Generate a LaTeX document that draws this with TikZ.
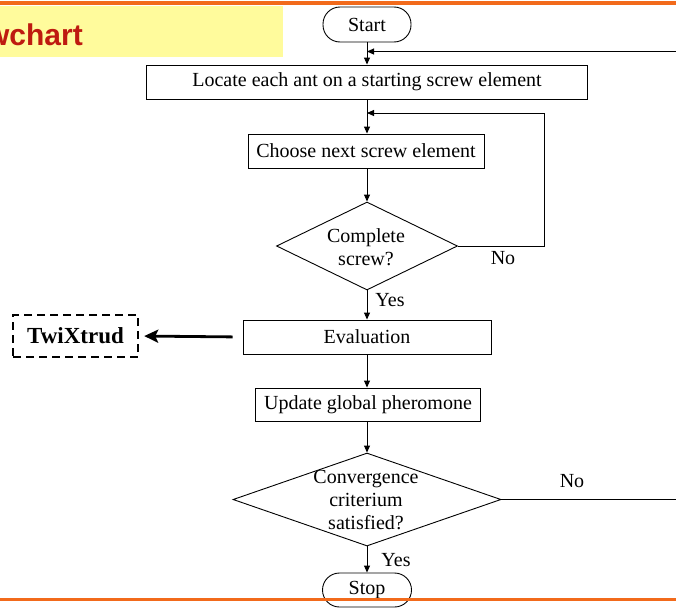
\documentclass[tikz,border=0pt]{standalone}
\usepackage{fontspec}
\setmainfont{Liberation Serif}
\newfontfamily\headfont{Liberation Sans}
\usetikzlibrary{arrows.meta,shapes.geometric}
\definecolor{bandorange}{HTML}{F26A1B}
\definecolor{titleyellow}{HTML}{FFFB9C}
\definecolor{titlered}{HTML}{BE1A10}
\begin{document}
\begin{tikzpicture}[x=1pt,y=-1pt,
  every node/.style={font=\fontsize{20}{23}\selectfont, inner sep=0pt},
  procbox/.style={draw, line width=0.9pt, rectangle},
  terminal/.style={procbox, rounded corners=17pt},
  decision/.style={draw, line width=0.9pt, diamond, inner sep=0pt},
  flow/.style={line width=0.9pt, -{Triangle[length=7pt,width=6pt]}},
  plainline/.style={line width=0.9pt},
  bigarrow/.style={line width=2.8pt, -{Stealth[length=14pt,width=13pt,inset=3pt]}},
  toolbox/.style={draw, line width=2.4pt, dash pattern=on 8pt off 5pt,
    font=\fontsize{23}{27}\selectfont\bfseries}]
\useasboundingbox (0,0) rectangle (676,608);

% title band
\fill[titleyellow] (0,6) rectangle (283,57);
\draw[bandorange, line width=4pt] (0,3) -- (676,3);
\node[anchor=base east, font=\headfont\bfseries\fontsize{30}{30}\selectfont,
  text=titlered] (title) at (83,45) {wchart};

% flowchart nodes
\node[terminal, minimum width=88pt, minimum height=35pt] (start) at (367,24.5) {Start};
\node[procbox, minimum width=441pt, minimum height=34pt] (locate) at (367,82) {Locate each ant on a starting screw element};
\node[procbox, minimum width=236pt, minimum height=34pt] (choose) at (366,151) {Choose next screw element};
\node[decision, minimum width=181pt, minimum height=88pt] (d1) at (367,246) {};
\node[align=center] (d1text) at (366,247.5) {Complete\\screw?};
\node[procbox, minimum width=248pt, minimum height=34pt] (eval) at (367,337) {Evaluation};
\node[procbox, minimum width=225pt, minimum height=33pt] (update) at (368,404.5) {Update global pheromone};
\node[decision, minimum width=268pt, minimum height=93pt] (d2) at (367,499.5) {};
\node[align=center] (d2text) at (366,500) {Convergence\\criterium\\satisfied?};
\node[terminal, minimum width=89pt, minimum height=34pt] (stop) at (367,590) {Stop};
\node[toolbox, minimum width=125pt, minimum height=42pt] (twx) at (75.5,336) {TwiXtrud};

% loop entry points
\coordinate (fb1) at (676,51.5);
\coordinate (loop2) at (544,113);
\coordinate (exit2) at (676,499.5);

% main flow
\draw[flow] (start.south) -- (start.south |- locate.north);
\draw[flow] (fb1) -- (start.south |- fb1);
\draw[flow] (locate.south) -- (locate.south |- choose.north);
\draw[flow] (d1.east) -| (loop2) -- (locate.south |- loop2);
\draw[flow] (choose.south -| d1.north) -- (d1.north);
\draw[flow] (d1.south) -- (d1.south |- eval.north);
\draw[flow] (eval.south) -- (eval.south |- update.north);
\draw[flow] (update.south -| d2.north) -- (d2.north);
\draw[flow] (d2.south) -- (d2.south |- stop.north);
\draw[plainline] (d2.east) -- (exit2);
\draw[bigarrow, shorten <=10pt, shorten >=5pt] (eval.west) -- (twx.east);

% branch labels
\node (no1) at (503,258) {No};
\node (yes1) at (390,300) {Yes};
\node (no2) at (572,481) {No};
\node (yes2) at (396,560) {Yes};

% bottom rule
\draw[bandorange, line width=3pt] (0,599.5) -- (676,599.5);
\end{tikzpicture}
\end{document}
